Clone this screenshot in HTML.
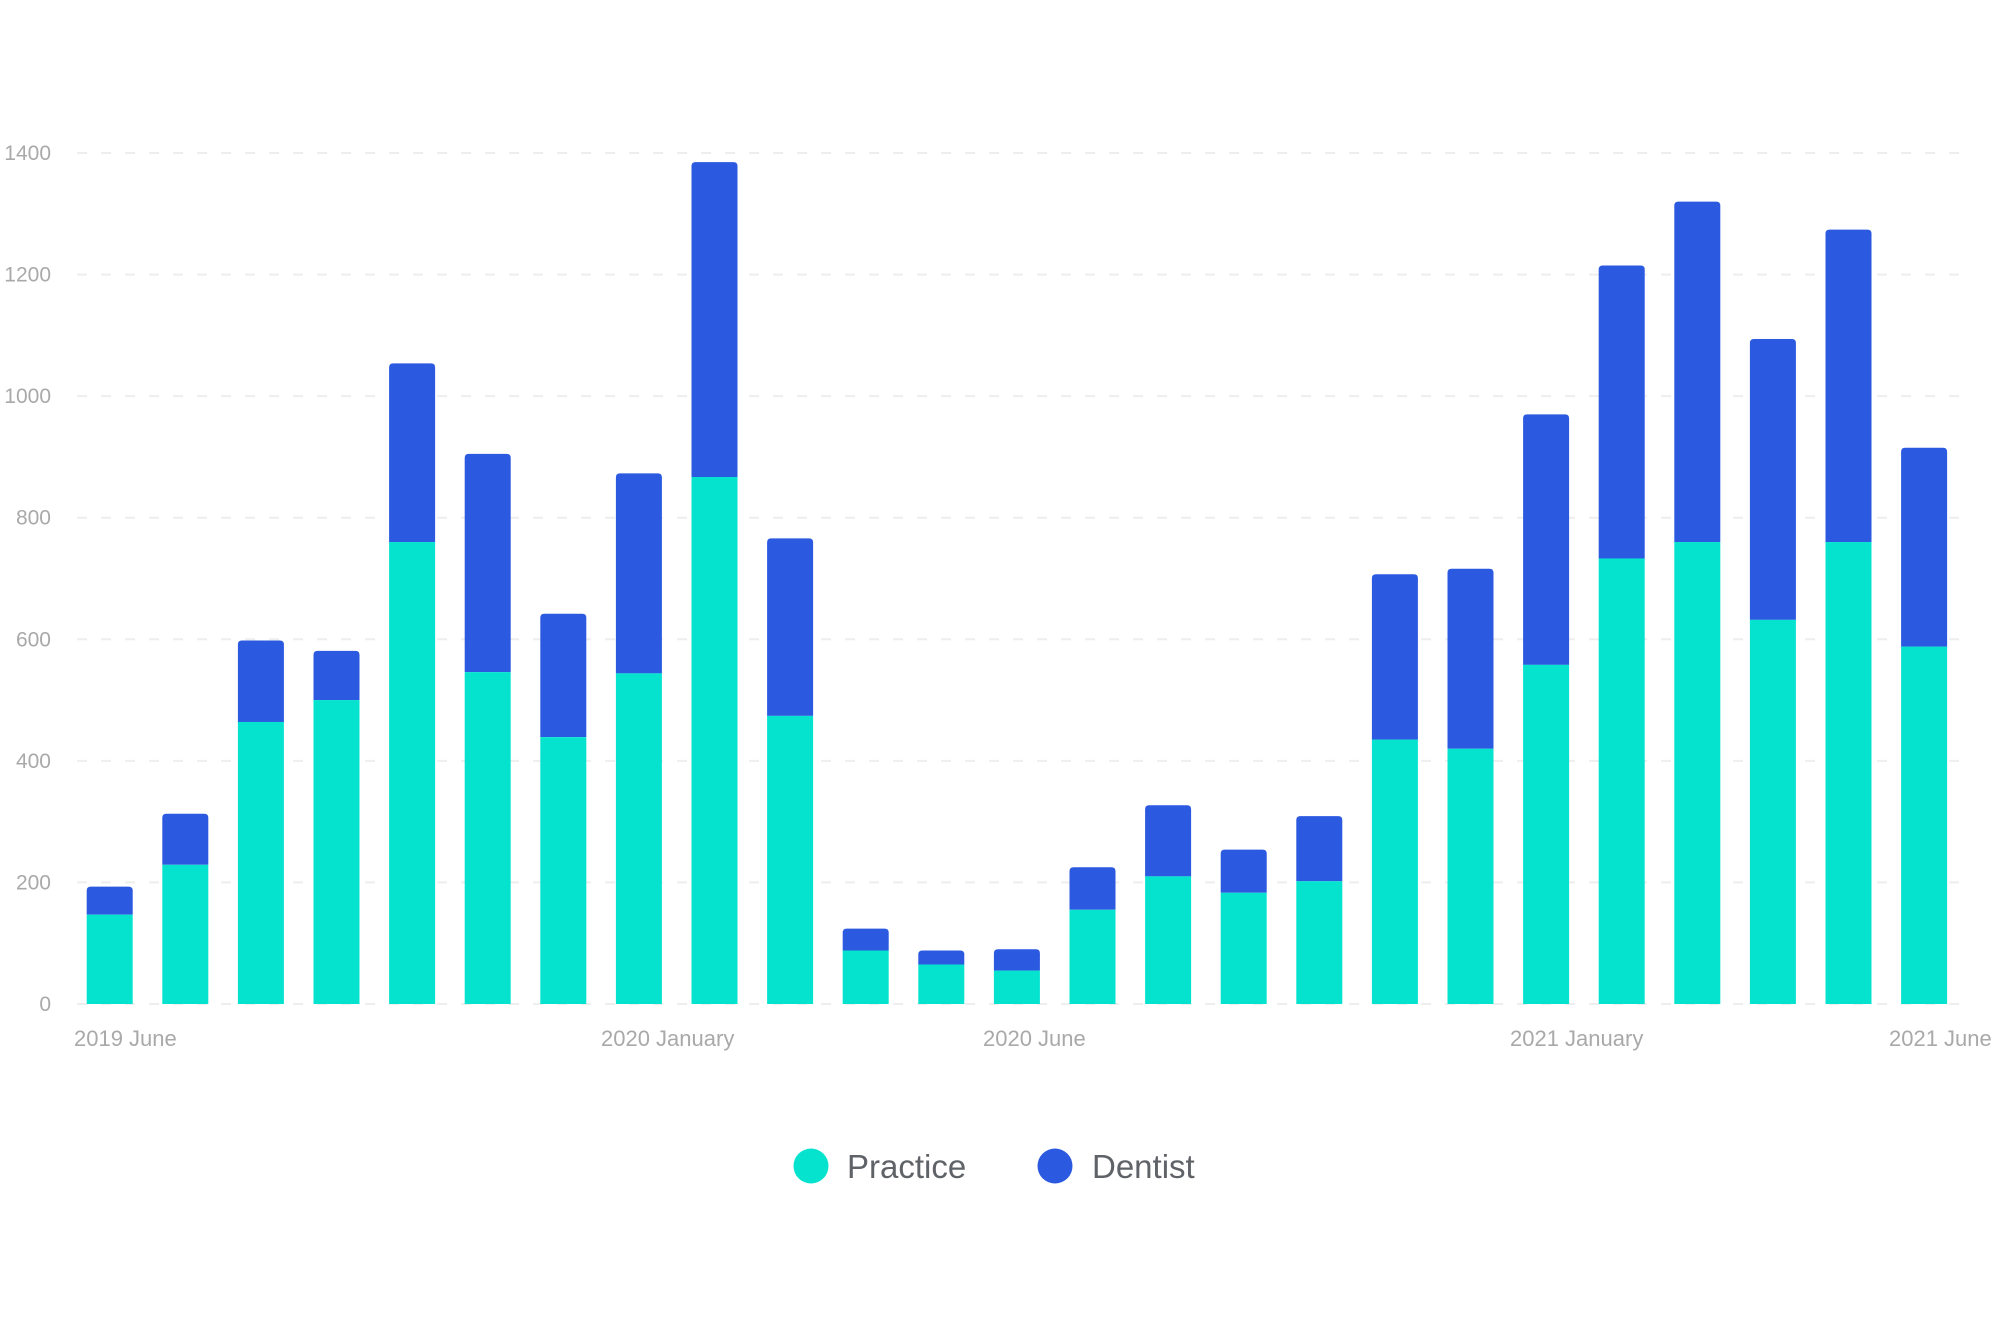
<!DOCTYPE html>
<html><head><meta charset="utf-8"><style>
html,body{margin:0;padding:0;background:#fff;}
svg{display:block;font-family:"Liberation Sans",sans-serif;}
</style></head><body>
<svg id="chart" width="2000" height="1333" viewBox="0 0 2000 1333">
<g id="grid"></g>
<g id="yaxis"></g>
<g id="bars"></g>
<g id="xaxis"></g>
<g>
<g>
<circle cx="811" cy="1166" r="17.5" fill="#05E3CF"/>
<text x="847" y="1178" font-size="33" fill="#5f6368">Practice</text>
</g>
<g>
<circle cx="1055" cy="1166" r="17.5" fill="#2B59E0"/>
<text x="1092" y="1178" font-size="33" fill="#5f6368">Dentist</text>
</g>
</g>
</svg>
<script>
const practice=[147,229,464,500,760,546,439,544,867,474,88,65,55,155,210,183,202,435,420,558,733,760,632,760,588];
const dentist=[46,84,134,81,294,359,203,329,518,292,36,23,35,70,117,71,107,272,296,412,482,560,462,514,327];
const yTicks=[0,200,400,600,800,1000,1200,1400];
const xLabels=["2019 June","2020 January","2020 June","2021 January","2021 June"];
const xLabelIdx=[0,7,12,19,24];

const NS="http://www.w3.org/2000/svg";
const y0=1004, pxPerUnit=(1004-153)/1400;
const x0=109.7, step=75.6, bw=46;
function yS(v){return y0-v*pxPerUnit;}
function xS(i){return x0+i*step;}
function mk(tag,attrs,parent){const e=document.createElementNS(NS,tag);for(const k in attrs)e.setAttribute(k,attrs[k]);parent.appendChild(e);return e;}
const grid=document.getElementById('grid'),yax=document.getElementById('yaxis'),bars=document.getElementById('bars'),xax=document.getElementById('xaxis');
yTicks.forEach(t=>{
  const l=mk('line',{x1:77,x2:1965,y1:yS(t),y2:yS(t),stroke:'#eeeeee','stroke-width':2,'stroke-dasharray':'10 14'},grid);
  
  
  const tx=mk('text',{x:51,y:yS(t)+7,'text-anchor':'end','font-size':21,fill:'#a9a9a9'},yax);
  tx.textContent=t;
  
  
});
practice.forEach((p,i)=>{
  const d=dentist[i];
  const g=mk('g',{},bars);
  
  
  const x=xS(i)-bw/2;
  const top=yS(p+d), mid=yS(p);
  const r=4;
  const pd=mk('path',{d:`M${x},${mid} L${x},${top+r} Q${x},${top} ${x+r},${top} L${x+bw-r},${top} Q${x+bw},${top} ${x+bw},${top+r} L${x+bw},${mid} Z`,fill:'#2B59E0'},g);
  
  
  const rp=mk('rect',{x:x,y:mid,width:bw,height:y0-mid,fill:'#05E3CF'},g);
  
  
});
const xStarts=[74,601,983,1510,1889];
xLabels.forEach((s,k)=>{
  const t=mk('text',{x:xStarts[k],y:1046,'font-size':22,fill:'#a9a9a9'},xax);
  t.textContent=s;
  
  
});
</script>
</body></html>
